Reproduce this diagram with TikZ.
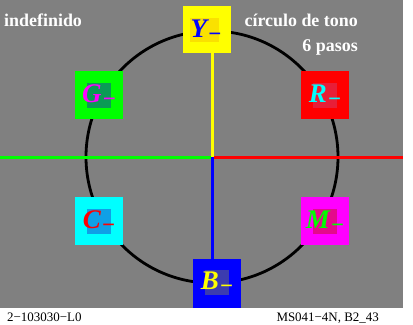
\documentclass[tikz,border=0pt]{standalone}
\usepackage{fontspec}
\setmainfont{Liberation Serif}
\definecolor{bggray}{RGB}{128,128,128}
\definecolor{pgreen}{RGB}{0,255,0}
\definecolor{pred}{RGB}{255,0,0}
\definecolor{pcyan}{RGB}{0,255,255}
\definecolor{pmagenta}{RGB}{255,0,255}
\definecolor{pblue}{RGB}{0,0,255}
\definecolor{pyellow}{RGB}{255,255,0}
\definecolor{ginner}{RGB}{10,155,85}
\definecolor{rinner}{RGB}{232,30,55}
\definecolor{cinner}{RGB}{15,160,230}
\definecolor{minner}{RGB}{228,10,140}
\definecolor{binner}{RGB}{60,60,175}
\definecolor{yinner}{RGB}{250,225,0}
\tikzset{
  colbox/.style={draw=none, inner sep=0pt, minimum width=48bp, minimum height=48bp},
  innerbox/.style={draw=none, inner sep=0pt, minimum width=24bp, minimum height=25bp},
  lab/.style={inner sep=0pt, font=\fontsize{27}{27}\selectfont\bfseries\itshape},
  toptext/.style={inner sep=0pt, text=white, font=\fontsize{18}{18}\selectfont\bfseries},
  foot/.style={inner sep=0pt, font=\fontsize{13}{13}\selectfont},
  axis/.style={line width=3bp}
}
\newcommand{\mylab}[1]{#1\kern1.5bp{\fontsize{23}{23}\selectfont\upshape\bfseries\raisebox{-4bp}{−}}}
\begin{document}
\begin{tikzpicture}[x=1bp,y=-1bp]
\useasboundingbox (0,0) rectangle (413,325);
\fill[white] (0,0) rectangle (413,325);
\fill[bggray] (0,0) rectangle (403,308);
\coordinate (ctr) at (212,157);
\coordinate (lft) at (0,157);
\coordinate (rgt) at (403,157);
\draw[line width=2.8bp, black] (ctr) circle (126);
% boxes
\node[colbox, fill=pyellow, minimum height=47bp] (Y) at (207,29.5) {};
\node[colbox, fill=pgreen] (G) at (99,95) {};
\node[colbox, fill=pred] (R) at (325,95) {};
\node[colbox, fill=pcyan] (C) at (99,221) {};
\node[colbox, fill=pmagenta] (M) at (325,221) {};
\node[colbox, fill=pblue, minimum height=49bp] (B) at (217,283.5) {};
% axes
\draw[axis, pgreen] (lft) -- (ctr);
\draw[axis, pred] (ctr) -- (rgt);
\draw[axis, pyellow] (Y.south -| ctr) -- (ctr);
\draw[axis, pblue] (ctr) -- (B.north -| ctr);
% inner boxes
\node[innerbox, fill=yinner, minimum width=29bp, minimum height=24bp] (Yi) at (204.5,30) {};
\node[innerbox, fill=ginner] (Gi) at (99,95.5) {};
\node[innerbox, fill=rinner] (Ri) at (325,95.5) {};
\node[innerbox, fill=cinner] (Ci) at (99,221) {};
\node[innerbox, fill=minner] (Mi) at (325,221) {};
\node[innerbox, fill=binner] (Bi) at (216.5,282) {};
% labels
\node[lab, text=pblue] (Yl) at (206,31) {\mylab{Y}};
\node[lab, text=pmagenta] (Gl) at (99,96) {\mylab{G}};
\node[lab, text=pcyan] (Rl) at (325,96) {\mylab{R}};
\node[lab, text=pred] (Cl) at (99,222) {\mylab{C}};
\node[lab, text=pgreen] (Ml) at (325,222) {\mylab{M}};
\node[lab, text=pyellow] (Bl) at (217,283) {\mylab{B}};
% texts
\node[toptext, anchor=base west] (t1) at (4,26) {indefinido};
\node[toptext, anchor=base east] (t2) at (358,26) {círculo de tono};
\node[toptext, anchor=base east] (t3) at (358,51) {6 pasos};
\node[foot, anchor=base west] (f1) at (7,321) {2−103030−L0};
\node[foot, anchor=base east] (f2) at (379,321) {MS041−4N, B2\_43};
\end{tikzpicture}
\end{document}
